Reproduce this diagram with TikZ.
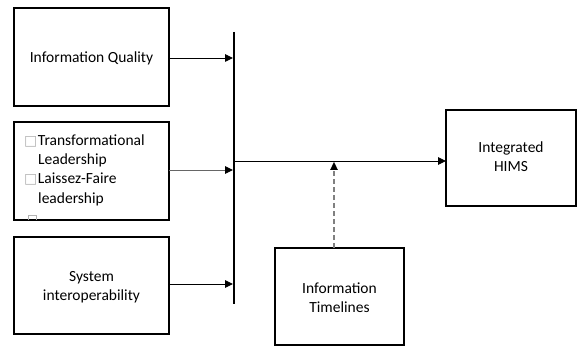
\documentclass[tikz,border=0pt]{standalone}
\usepackage{fontspec}
\setmainfont{Carlito}
\newfontfamily\dvs{DejaVu Sans}
\usetikzlibrary{arrows.meta}
\newcommand\sqb{{\color{gray!60}\dvs\fontsize{14}{14}\selectfont □}}
\begin{document}
\begin{tikzpicture}[x=1pt,y=-1pt,
  boxst/.style={draw=black, line width=1.1pt},
  txt/.style={font=\fontsize{15.5}{19}\selectfont, align=center, inner sep=0pt},
  ltxt/.style={font=\fontsize{15.5}{19}\selectfont, anchor=west, inner sep=0pt},
  conn/.style={line width=0.9pt, -{Triangle[length=8pt,width=7.5pt,color=black]}}]
\useasboundingbox (0,0) rectangle (577,347);
% boxes
\draw[boxst] (14,8) rectangle (169,106);
\node[txt] (iq) at (91.5,58) {Information Quality};
\coordinate (b1) at (169,58);
\draw[boxst] (14,122) rectangle (169,220);
\node[ltxt] (t1) at (24,141) {\sqb\kern0.5pt Transformational};
\node[ltxt] (t2) at (38,160) {Leadership};
\node[ltxt] (t3) at (24,179) {\sqb\kern0.5pt Laissez-Faire};
\node[ltxt] (t4) at (38,199) {leadership};
\begin{scope}
\clip (14,122) rectangle (168,219);
\draw[gray!60, line width=0.5pt] (28,222) -- (28,215.5) -- (36,215.5) -- (36,222);
\end{scope}
\coordinate (b2) at (169,170);
\draw[boxst] (14,237) rectangle (169,334);
\node[txt] (si) at (91.5,287) {System\\interoperability};
\coordinate (b3) at (169,284);
% bar
\coordinate (bt) at (234,32);
\coordinate (bb) at (234,304);
\draw[line width=2.4pt] (bt) -- (bb);
\coordinate (a1) at (233,58);
\coordinate (a2) at (233,170);
\coordinate (a3) at (233,284);
\draw[conn] (b1) -- (a1);
\draw[conn, draw=gray!80!black] (b2) -- (a2);
\draw[conn] (b3) -- (a3);
% HIMS
\draw[boxst] (446,110) rectangle (576,206);
\node[txt] (hims) at (511,157) {Integrated\\HIMS};
\coordinate (hl) at (446,161);
\coordinate (bs) at (235,161);
\draw[conn] (bs) -- (hl);
% timelines
\draw[boxst] (275,248) rectangle (404,345);
\node[txt] (tl) at (339.5,298) {Information\\Timelines};
\coordinate (tt) at (334,248);
\coordinate (tj) at (334,162);
\draw[draw=gray, dash pattern=on 5pt off 3pt, line width=1.5pt, -{Triangle[length=8pt,width=7.5pt,color=black,line width=0.3pt]}] (tt) -- (tj);
\end{tikzpicture}
\end{document}
